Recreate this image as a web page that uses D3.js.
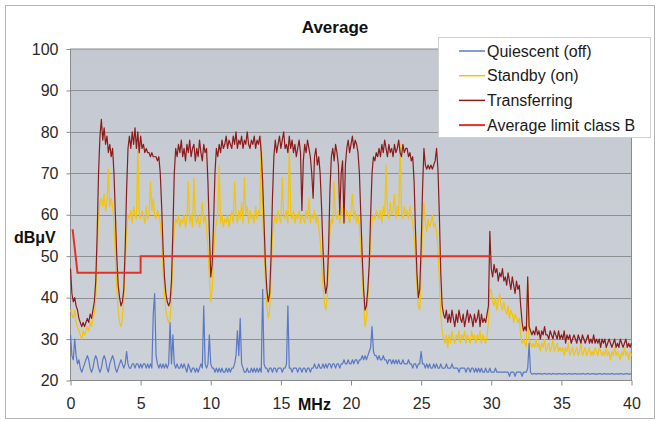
<!DOCTYPE html>
<html>
<head>
<meta charset="utf-8">
<script src="https://cdn.jsdelivr.net/npm/d3@7"></script>
<style>
  body { margin: 0; background: #fff; }
  svg { display: block; font-family: "Liberation Sans", Arial, sans-serif; }
</style>
</head>
<body>
<svg width="660" height="421"></svg>
<script>
// sweep 0..40 MHz, one reading every 0.1 MHz
var freqStep = 0.1;

var quiescent = [
  31, 26, 25, 30, 26, 24, 25, 23, 22, 23,
  24, 25, 26, 25, 23, 22, 23, 25, 26, 25,
  23, 22, 23, 25, 26, 25, 23, 22, 24, 25,
  26, 25, 23, 22, 23, 24, 25, 24, 23, 24,
  27, 24, 23, 23, 24, 24, 23, 24, 24, 23,
  24, 23, 24, 24, 23, 24, 23, 24, 23, 36,
  41, 26, 24, 23, 24, 23, 24, 23, 24, 23,
  24, 34, 24, 31, 24, 23, 24, 23, 23, 24,
  23, 24, 23, 22, 24, 23, 22, 23, 23, 22,
  23, 22, 23, 24, 23, 38, 24, 23, 24, 31,
  24, 23, 23, 22, 23, 22, 23, 22, 23, 22,
  22, 23, 22, 23, 22, 23, 23, 24, 26, 32,
  26, 35, 24, 23, 22, 22, 23, 22, 22, 23,
  22, 23, 22, 23, 22, 23, 22, 42, 24, 23,
  23, 22, 23, 23, 22, 23, 23, 22, 23, 23,
  23, 22, 23, 23, 24, 38, 23, 23, 22, 23,
  23, 23, 22, 23, 23, 22, 23, 23, 22, 23,
  23, 22, 23, 23, 24, 23, 23, 24, 23, 23,
  24, 23, 24, 23, 24, 24, 23, 24, 24, 23,
  24, 24, 23, 24, 24, 25, 24, 24, 25, 24,
  24, 25, 24, 25, 25, 24, 25, 25, 26, 25,
  26, 25, 26, 27, 28, 33, 27, 26, 26, 25,
  26, 25, 25, 26, 25, 25, 24, 25, 25, 24,
  25, 24, 25, 24, 25, 24, 24, 25, 24, 24,
  24, 25, 24, 24, 23, 24, 24, 23, 24, 24,
  27, 24, 24, 23, 24, 23, 24, 23, 23, 24,
  23, 24, 23, 23, 24, 23, 23, 23, 24, 23,
  23, 23, 24, 23, 23, 23, 23, 22, 23, 23,
  23, 23, 22, 23, 23, 22, 23, 23, 22, 23,
  22, 23, 22, 23, 22, 22, 23, 22, 22, 23,
  22, 22, 22, 23, 22, 22, 22, 22, 22, 22,
  22, 22, 22, 21, 22, 22, 22, 21, 22, 22,
  22, 22, 21, 22, 22, 22, 23, 29, 22, 21.5,
  21.6, 21.7, 21.5, 21.7, 21.6, 21.7, 21.5, 21.6, 21.7, 21.6,
  21.5, 21.7, 21.6, 21.5, 21.7, 21.6, 21.6, 21.5, 21.7, 21.6,
  21.6, 21.5, 21.7, 21.6, 21.5, 21.6, 21.7, 21.5, 21.6, 21.6,
  21.7, 21.5, 21.6, 21.6, 21.5, 21.7, 21.6, 21.5, 21.6, 21.7,
  21.5, 21.6, 21.6, 21.7, 21.5, 21.6, 21.5, 21.7, 21.6, 21.5,
  21.6, 21.7, 21.5, 21.6, 21.6, 21.5, 21.7, 21.6, 21.5, 21.6,
  21.6, 21.5, 21.7, 21.6, 21.5, 21.6, 21.6, 21.7, 21.5, 21.6,
  21.6
];

var standby = [
  37, 36, 35, 37, 34, 33, 32, 31, 30, 32,
  31, 32, 33, 32, 34, 33, 35, 36, 40, 50,
  60, 63, 64, 62, 65, 61, 63, 71, 62, 64,
  62, 58, 50, 42, 37, 34, 33, 35, 40, 48,
  56, 60, 59, 61, 58, 62, 60, 59, 77, 60,
  59, 61, 60, 58, 62, 59, 60, 68, 61, 64,
  60, 59, 61, 60, 58, 54, 47, 41, 37, 35,
  34, 35, 40, 50, 57, 59, 58, 60, 57, 59,
  58, 60, 57, 59, 68, 58, 60, 57, 69, 59,
  58, 60, 57, 59, 63, 58, 60, 57, 52, 45,
  39, 42, 50, 56, 58, 60, 72, 58, 60, 57,
  59, 58, 60, 57, 59, 61, 58, 68, 60, 58,
  61, 59, 63, 58, 69, 60, 62, 58, 61, 59,
  60, 58, 62, 59, 61, 60, 79, 60, 52, 44,
  38, 35, 37, 45, 55, 58, 60, 58, 61, 59,
  58, 69, 60, 59, 61, 58, 77, 60, 59, 61,
  58, 60, 59, 61, 58, 60, 59, 58, 61, 59,
  64, 58, 60, 59, 61, 58, 60, 57, 54, 48,
  43, 39, 37, 40, 48, 56, 59, 58, 68, 60,
  59, 61, 58, 60, 62, 58, 59, 61, 60, 58,
  61, 65, 59, 61, 58, 60, 57, 52, 45, 39,
  33, 35, 40, 47, 54, 58, 60, 59, 61, 60,
  59, 61, 58, 62, 60, 72, 61, 59, 63, 60,
  61, 65, 59, 62, 60, 77, 61, 59, 62, 60,
  61, 59, 62, 60, 58, 55, 50, 43, 38, 37,
  45, 56, 63, 58, 56, 59, 57, 58, 60, 57,
  58, 56, 52, 44, 36, 32, 30, 29, 31, 28,
  31, 29, 32, 30, 29, 31, 30, 32, 29, 31,
  30, 32, 29, 31, 30, 29, 32, 30, 31, 29,
  31, 30, 32, 29, 31, 30, 29, 31, 34, 42,
  42, 39, 38, 40, 37, 39, 41, 38, 37, 39,
  37, 36, 38, 35, 37, 36, 34, 36, 35, 34,
  35, 31, 29, 30, 29, 28, 44, 30, 29, 28,
  29, 28, 30, 28, 29, 27, 29, 28, 30, 27,
  28, 29, 27, 28, 30, 27, 28, 29, 27, 28,
  27, 28, 26, 28, 27, 29, 26, 27, 28, 26,
  27, 28, 26, 27, 29, 26, 27, 28, 26, 27,
  28, 26, 27, 26, 28, 27, 26, 28, 27, 26,
  27, 26, 28, 26, 27, 25, 27, 26, 28, 26,
  27, 26, 25, 27, 26, 28, 26, 27, 25, 27,
  26
];

var transferring = [
  47, 41, 39, 40, 38, 37, 35, 34, 33, 34,
  33, 34, 35, 34, 36, 35, 37, 39, 44, 55,
  70, 79, 83, 78, 81, 77, 79, 75, 77, 74,
  76, 70, 60, 50, 43, 40, 38, 39, 42, 52,
  66, 76, 79, 76, 80, 77, 81, 76, 80, 75,
  79, 76, 77, 75, 76, 75, 75, 74, 75, 74,
  74, 74, 73, 74, 70, 62, 52, 45, 41, 39,
  38, 39, 44, 56, 70, 76, 74, 77, 75, 78,
  74, 76, 73, 77, 75, 78, 74, 76, 77, 73,
  76, 74, 78, 75, 73, 77, 75, 76, 68, 56,
  45, 48, 58, 70, 76, 74, 77, 75, 78, 76,
  77, 79, 76, 78, 77, 76, 79, 77, 80, 76,
  78, 77, 79, 76, 78, 77, 80, 77, 76, 78,
  77, 79, 76, 78, 77, 79, 75, 68, 58, 48,
  42, 39, 41, 50, 64, 74, 78, 75, 77, 79,
  76, 78, 80, 76, 77, 75, 79, 76, 78, 75,
  77, 74, 76, 78, 75, 61, 73, 77, 75, 78,
  76, 74, 70, 64, 74, 76, 72, 74, 70, 62,
  52, 44, 41, 43, 52, 66, 74, 76, 73, 77,
  75, 72, 60, 70, 73, 58, 72, 76, 78, 75,
  77, 79, 76, 78, 77, 75, 70, 60, 50, 42,
  37, 38, 42, 48, 60, 70, 74, 73, 75, 74,
  76, 74, 77, 75, 78, 76, 74, 77, 75, 76,
  74, 77, 75, 76, 78, 75, 74, 77, 75, 76,
  76, 74, 75, 73, 74, 68, 56, 46, 40, 42,
  52, 66, 76, 72, 71, 72, 71, 72, 71, 72,
  73, 76, 71, 60, 46, 38, 36, 35, 37, 34,
  36, 34, 37, 35, 33, 36, 34, 37, 35, 34,
  36, 33, 35, 37, 34, 36, 35, 33, 36, 34,
  35, 37, 33, 36, 34, 35, 34, 36, 38, 56,
  47, 45, 48, 46, 47, 44, 46, 45, 47, 44,
  45, 43, 46, 44, 42, 45, 43, 41, 44, 42,
  43, 38, 34, 32, 33, 32, 45, 33, 32, 31,
  32, 31, 33, 31, 32, 30, 32, 31, 33, 31,
  31, 30, 32, 31, 30, 32, 31, 30, 32, 30,
  31, 30, 32, 29, 31, 30, 31, 29, 30, 31,
  30, 29, 31, 30, 29, 31, 30, 29, 30, 31,
  29, 30, 29, 31, 29, 30, 29, 30, 28, 30,
  29, 30, 28, 29, 30, 29, 28, 29, 30, 28,
  29, 28, 30, 29, 28, 29, 30, 28, 29, 28,
  29
];

// EN 55022 average limit, class B
var limitMHz = [0.15, 0.5, 5, 5, 30];
var limitDb = [56.5, 46, 46, 50, 50];

var xTicks = [0, 5, 10, 15, 20, 25, 30, 35, 40];
var yTicks = [20, 30, 40, 50, 60, 70, 80, 90, 100];

var seriesNames = ["Quiescent (off)", "Standby (on)", "Transferring", "Average limit class B"];
var seriesColors = ["#5a78c4", "#f2c40c", "#8c1c1c", "#e03328"];

var svg = d3.select("svg");

var x = d3.scaleLinear().domain([0, 40]).range([70.5, 631.5]);
var y = d3.scaleLinear().domain([20, 100]).range([380.5, 49]);

// outer frame
svg.append("rect")
    .attr("x", 5.5).attr("y", 5.5)
    .attr("width", 649).attr("height", 413)
    .attr("fill", "#fff")
    .attr("stroke", "#b8b4b4");

var grad = svg.append("defs").append("linearGradient")
    .attr("id", "bg").attr("x1", 0).attr("y1", 0).attr("x2", 0).attr("y2", 1);
grad.append("stop").attr("offset", "0%").attr("stop-color", "#c4c8d0");
grad.append("stop").attr("offset", "100%").attr("stop-color", "#cdd1d8");

svg.append("rect")
    .attr("x", x(0)).attr("y", y(100))
    .attr("width", x(40) - x(0)).attr("height", y(20) - y(100))
    .attr("fill", "url(#bg)");

// horizontal gridlines
svg.append("g")
    .selectAll("line")
    .data(yTicks.slice(1, -1))
    .enter()
  .append("line")
    .attr("x1", x(0)).attr("x2", x(40))
    .attr("y1", function(d) { return Math.round(y(d)) + 0.5; })
    .attr("y2", function(d) { return Math.round(y(d)) + 0.5; })
    .attr("stroke", "#8e8f93")
    .attr("stroke-width", 1);

svg.append("rect")
    .attr("x", x(0)).attr("y", y(100))
    .attr("width", x(40) - x(0)).attr("height", y(20) - y(100))
    .attr("fill", "none")
    .attr("stroke", "#8a8a8e");

// axes
var xAxis = svg.append("g")
    .attr("transform", "translate(0," + y(20) + ")")
    .call(d3.axisBottom(x).tickValues(xTicks).tickSize(5).tickPadding(12));
var yAxis = svg.append("g")
    .attr("transform", "translate(" + x(0) + ",0)")
    .call(d3.axisLeft(y).tickValues(yTicks).tickSize(4).tickPadding(8));

[xAxis, yAxis].forEach(function(g) {
  g.select(".domain").remove();
  g.selectAll(".tick line").attr("stroke", "#8a8a8e");
  g.selectAll(".tick text")
      .attr("fill", "#2a2a2a")
      .style("font-size", "16px")
      .style("font-family", "Liberation Sans, Arial, sans-serif");
});

// data traces
var line = d3.line()
    .x(function(d, i) { return x(i * freqStep); })
    .y(function(d) { return y(d); });

var traces = [quiescent, standby, transferring];
svg.append("g")
    .selectAll("path")
    .data(traces)
    .enter()
  .append("path")
    .attr("d", line)
    .attr("fill", "none")
    .attr("stroke", function(d, i) { return seriesColors[i]; })
    .attr("stroke-width", 1.2)
    .attr("stroke-linejoin", "round");

var limitLine = d3.line()
    .x(function(d) { return x(d); })
    .y(function(d, i) { return y(limitDb[i]); });

svg.append("path")
    .attr("d", limitLine(limitMHz))
    .attr("fill", "none")
    .attr("stroke", seriesColors[3])
    .attr("stroke-width", 2);

// titles
svg.append("text")
    .attr("x", 335).attr("y", 33)
    .attr("text-anchor", "middle")
    .style("font-size", "17px").style("font-weight", "bold")
    .attr("fill", "#111")
    .text("Average");

svg.append("text")
    .attr("x", 14).attr("y", 243)
    .style("font-size", "16px").style("font-weight", "bold")
    .attr("fill", "#111")
    .text("dBμV");

svg.append("text")
    .attr("x", 298).attr("y", 410)
    .style("font-size", "16px").style("font-weight", "bold")
    .attr("fill", "#111")
    .text("MHz");

// legend
var legend = svg.append("g").attr("transform", "translate(438,37)");
legend.append("rect")
    .attr("x", 0.5).attr("y", 0.5)
    .attr("width", 212).attr("height", 100)
    .attr("fill", "#fff")
    .attr("stroke", "#d0d0d0");

var items = legend.selectAll(".item")
    .data(seriesNames)
    .enter()
  .append("g")
    .attr("class", "item")
    .attr("transform", function(d, i) { return "translate(0," + (14 + i * 24.7) + ")"; });
items.append("line")
    .attr("x1", 21).attr("x2", 47)
    .attr("stroke", function(d, i) { return seriesColors[i]; })
    .attr("stroke-width", function(d, i) { return i === 3 ? 2 : 1.5; });
items.append("text")
    .attr("x", 49).attr("y", 5.5)
    .style("font-size", "16px")
    .attr("fill", "#1a1a1a")
    .text(function(d) { return d; });
</script>
</body>
</html>
